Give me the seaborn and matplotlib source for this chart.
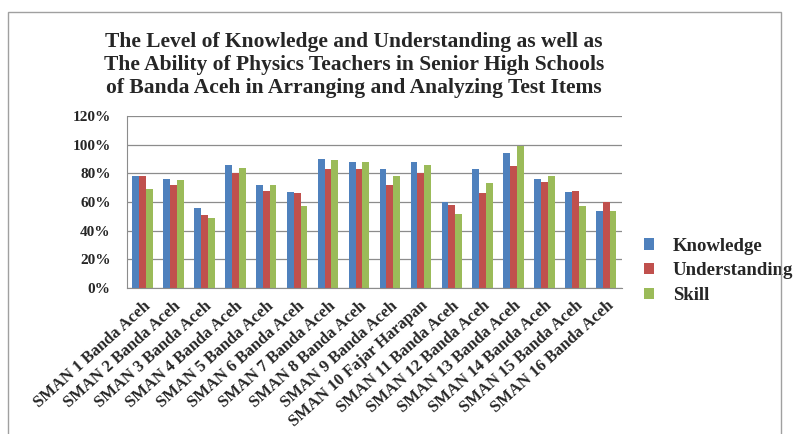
import numpy as np
import pandas as pd
import seaborn as sns
import matplotlib.pyplot as plt
import matplotlib.transforms as mtransforms
from matplotlib.patches import Rectangle

# data (percent)
schools = ['SMAN 1 Banda Aceh', 'SMAN 2 Banda Aceh', 'SMAN 3 Banda Aceh', 'SMAN 4 Banda Aceh',
           'SMAN 5 Banda Aceh', 'SMAN 6 Banda Aceh', 'SMAN 7 Banda Aceh', 'SMAN 8 Banda Aceh',
           'SMAN 9 Banda Aceh', 'SMAN 10 Fajar Harapan', 'SMAN 11 Banda Aceh', 'SMAN 12 Banda Aceh',
           'SMAN 13 Banda Aceh', 'SMAN 14 Banda Aceh', 'SMAN 15 Banda Aceh', 'SMAN 16 Banda Aceh']
knowledge = [78, 76, 56, 86, 72, 67, 90, 88, 83, 88, 60, 83, 94, 76, 67, 54]
understanding = [78, 72, 51, 80, 68, 66, 83, 83, 72, 80, 58, 66, 85, 74, 68, 60]
skill = [69, 75, 49, 84, 72, 57, 89, 88, 78, 86, 52, 73, 99, 78, 57, 54]

series = ['Knowledge', 'Understanding', 'Skill']
colors = ['#4F81BD', '#C0504D', '#9BBB59']

df = pd.DataFrame({'school': schools * 3,
                   'aspect': np.repeat(series, len(schools)),
                   'value': knowledge + understanding + skill})

sns.set_style('white')
plt.rcParams['font.family'] = ['Liberation Serif', 'DejaVu Serif']
plt.rcParams['font.weight'] = 'bold'

fig = plt.figure(figsize=(7.95, 4.34), dpi=100)
ax = fig.add_axes([0.16, 0.336, 0.622, 0.397])

sns.barplot(data=df, x='school', y='value', hue='aspect', palette=colors,
            width=0.66, gap=0, saturation=1, linewidth=0, edgecolor='none',
            ax=ax, legend=True)

ax.set_ylim(0, 120)
ax.set_yticks(range(0, 121, 20))
ax.set_yticklabels([f'{v}%' for v in range(0, 121, 20)], fontsize=11, fontweight='bold')
ax.set_xlim(-0.5, len(schools) - 0.5)
ax.set_xticks(range(len(schools)))
ax.set_xticklabels(schools, rotation=42, ha='right', rotation_mode='anchor',
                   fontsize=12, fontweight='bold')
shift = mtransforms.ScaledTranslation(-5 / 100, 0, fig.dpi_scale_trans)
for lbl in ax.get_xticklabels():
    lbl.set_transform(lbl.get_transform() + shift)
ax.tick_params(axis='y', length=0, pad=12)
ax.tick_params(axis='x', length=0, pad=7)
ax.set_xlabel('')
ax.set_ylabel('')
ax.yaxis.grid(True, color='#8c8c8c', linewidth=0.9)
ax.set_axisbelow(True)
for s in ['top', 'right']:
    ax.spines[s].set_visible(False)
ax.spines['left'].set_color('#8c8c8c')
ax.spines['bottom'].set_color('#8c8c8c')

leg = ax.legend(loc='center left', bbox_to_anchor=(1.01, 0.10), frameon=False,
                prop={'family': 'Liberation Serif', 'weight': 'bold', 'size': 13.5},
                handlelength=0.55, handleheight=0.55, handletextpad=1.0, labelspacing=0.42)

fig.text(0.445, 0.85,
         'The Level of Knowledge and Understanding as well as\n'
         'The Ability of Physics Teachers in Senior High Schools\n'
         'of Banda Aceh in Arranging and Analyzing Test Items',
         ha='center', va='center', fontsize=15.5, fontweight='bold', linespacing=1.2)

# outer chart frame
fig.patches.append(Rectangle((0.010, -0.05), 0.972, 1.022, transform=fig.transFigure,
                             fill=False, edgecolor='#a0a0a0', linewidth=1))

fig.savefig('out.png', dpi=100)
